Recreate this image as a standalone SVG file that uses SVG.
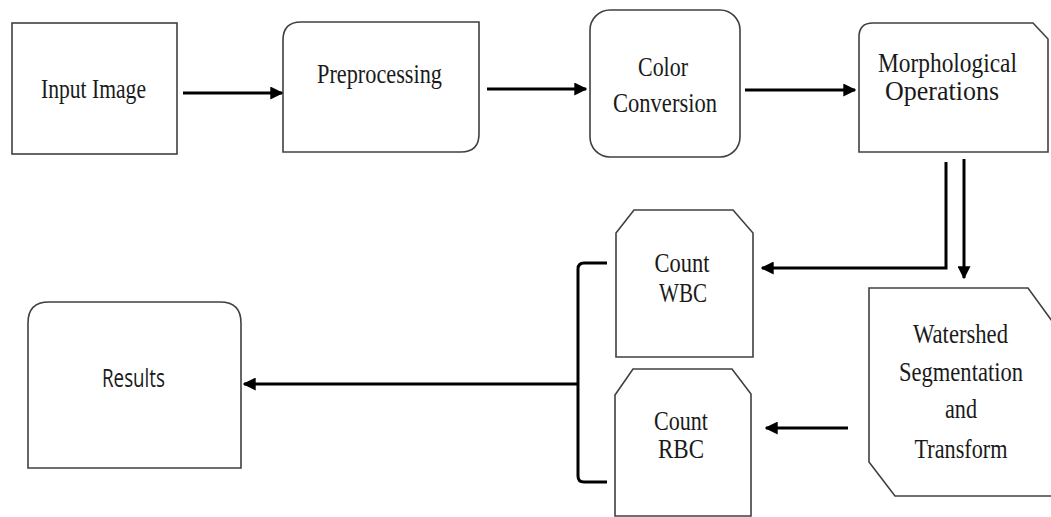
<svg xmlns="http://www.w3.org/2000/svg" width="1051" height="517" viewBox="0 0 1051 517">
  <style>
    .box { fill: #ffffff; stroke: #404040; stroke-width: 1.6; }
    .lbl { font-family: "Liberation Serif", "Times New Roman", serif; font-size: 27px; fill: #1a1a1a; text-anchor: middle; }
    .sans { font-family: "Open Sans", "Liberation Sans", sans-serif; font-size: 25px; fill: #1a1a1a; text-anchor: middle; }
    .wire { fill: none; stroke: #000000; stroke-width: 3; }
  </style>
  <defs>
    <marker id="arrow" viewBox="0 0 10 10" refX="9" refY="5" markerWidth="13" markerHeight="13" markerUnits="userSpaceOnUse" orient="auto">
      <path d="M0,0 L10,5 L0,10 Z" fill="#000000"/>
    </marker>
  </defs>
  <rect width="1051" height="517" fill="#ffffff"/>

  <!-- nodes -->
  <g id="input-image">
    <rect class="box" x="12" y="23" width="165" height="131"/>
    <text class="lbl" x="93.5" y="98" textLength="105" lengthAdjust="spacingAndGlyphs">Input Image</text>
  </g>

  <g id="preprocessing">
    <path class="box" d="M283,152 L283,40 Q283,22 301,22 L479,22 L479,134 Q479,152 461,152 Z"/>
    <text class="lbl" x="379.5" y="83" textLength="125" lengthAdjust="spacingAndGlyphs">Preprocessing</text>
  </g>

  <g id="color-conversion">
    <rect class="box" x="590" y="10" width="150" height="147" rx="20" ry="20"/>
    <text class="lbl" x="663" y="76" textLength="50" lengthAdjust="spacingAndGlyphs">Color</text>
    <text class="lbl" x="665" y="112" textLength="104" lengthAdjust="spacingAndGlyphs">Conversion</text>
  </g>

  <g id="morphological-operations">
    <path class="box" d="M859,152 L859,37 Q859,23 873,23 L1033,23 L1048,39 L1048,152 Z"/>
    <text class="lbl" x="947.5" y="72" textLength="139" lengthAdjust="spacingAndGlyphs">Morphological</text>
    <text class="lbl" x="942" y="100" textLength="114" lengthAdjust="spacingAndGlyphs">Operations</text>
  </g>

  <g id="count-wbc">
    <path class="box" d="M616,233 L634,210 L733,210 L753,233 L753,357 L616,357 Z"/>
    <text class="lbl" x="682" y="272" textLength="55" lengthAdjust="spacingAndGlyphs">Count</text>
    <text class="lbl" x="683" y="302" textLength="48" lengthAdjust="spacingAndGlyphs">WBC</text>
  </g>

  <g id="count-rbc">
    <path class="box" d="M615,395 L633,369 L732,369 L751,394 L751,516 L615,516 Z"/>
    <text class="lbl" x="681" y="430" textLength="54" lengthAdjust="spacingAndGlyphs">Count</text>
    <text class="lbl" x="681" y="458" textLength="46" lengthAdjust="spacingAndGlyphs">RBC</text>
  </g>

  <g id="watershed">
    <path class="box" d="M869,288 L1028,288 L1060,332 L1060,496 L895,496 L869,462 Z"/>
    <text class="lbl" x="960.5" y="343" textLength="95" lengthAdjust="spacingAndGlyphs">Watershed</text>
    <text class="lbl" x="961" y="381" textLength="124" lengthAdjust="spacingAndGlyphs">Segmentation</text>
    <text class="lbl" x="961" y="418" textLength="32" lengthAdjust="spacingAndGlyphs">and</text>
    <text class="lbl" x="961" y="458" textLength="93" lengthAdjust="spacingAndGlyphs">Transform</text>
  </g>

  <g id="results">
    <path class="box" d="M28,468 L28,323 Q28,302 49,302 L220,302 Q241,302 241,323 L241,468 Z"/>
    <text class="sans" x="133.5" y="387" textLength="63" lengthAdjust="spacingAndGlyphs">Results</text>
  </g>

  <!-- connectors -->
  <g id="connectors">
    <path class="wire" d="M183,93 L282,93" marker-end="url(#arrow)"/>
    <path class="wire" d="M487,89 L586,89" marker-end="url(#arrow)"/>
    <path class="wire" d="M745,90 L855,90" marker-end="url(#arrow)"/>
    <path class="wire" d="M946,162 L946,268 L762,268" marker-end="url(#arrow)"/>
    <path class="wire" d="M964,159 L964,278" marker-end="url(#arrow)"/>
    <path class="wire" d="M848,428 L766,428" marker-end="url(#arrow)"/>
    <path class="wire" d="M607,263 L584,263 Q578,263 578,269 L578,476 Q578,482 584,482 L607,482"/>
    <path class="wire" d="M578,384 L244,384" marker-end="url(#arrow)"/>
  </g>
</svg>
